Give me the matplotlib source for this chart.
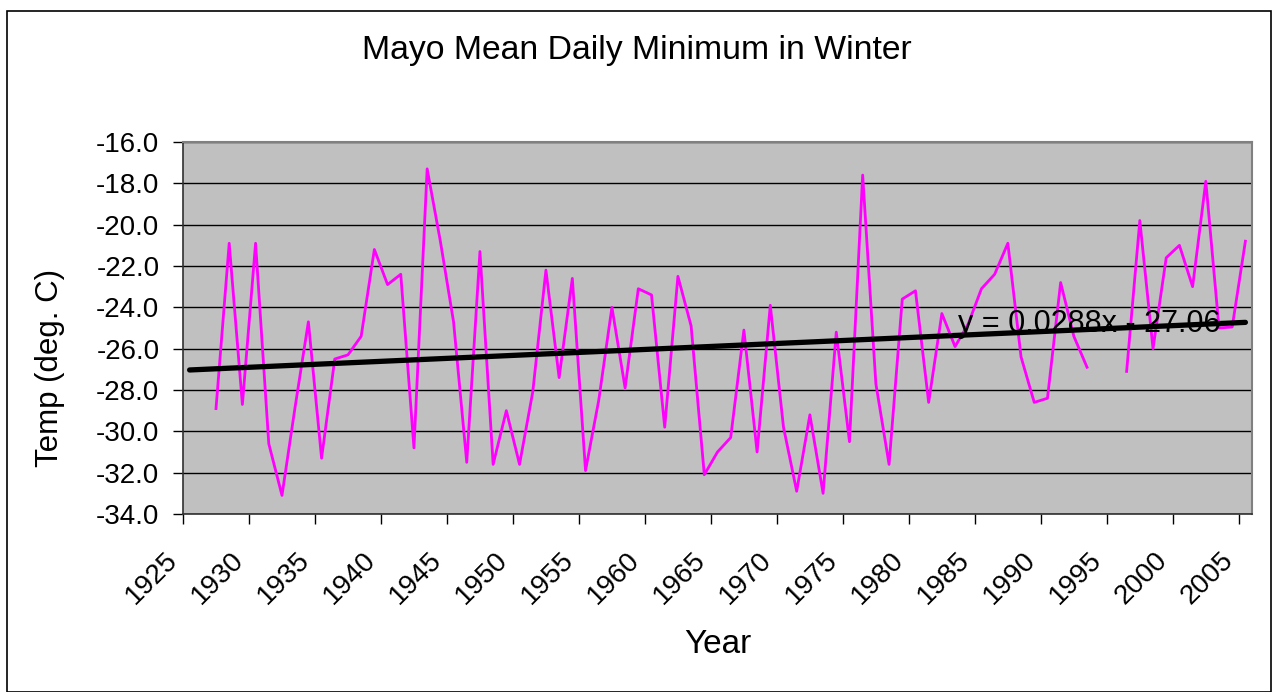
import numpy as np
import matplotlib.pyplot as plt
from matplotlib.patches import Rectangle

plt.rcParams['font.family'] = ['Liberation Sans', 'DejaVu Sans']

# winter mean daily minimum, Mayo (deg C); 1994-1995 missing
years = np.arange(1927, 2006)
temps = [-28.9, -20.9, -28.7, -20.9, -30.6, -33.1, -28.8, -24.7, -31.3, -26.5,
         -26.3, -25.4, -21.2, -22.9, -22.4, -30.8, -17.3, -20.8, -24.7, -31.5,
         -21.3, -31.6, -29.0, -31.6, -28.1, -22.2, -27.4, -22.6, -31.9, -28.5,
         -24.0, -27.9, -23.1, -23.4, -29.8, -22.5, -24.9, -32.1, -31.0, -30.3,
         -25.1, -31.0, -23.9, -29.8, -32.9, -29.2, -33.0, -25.2, -30.5, -17.6,
         -27.7, -31.6, -23.6, -23.2, -28.6, -24.3, -25.9, -24.8, -23.1, -22.4,
         -20.9, -26.4, -28.6, -28.4, -22.8, -25.4, -26.9, np.nan, np.nan, -27.1,
         -19.8, -26.0, -21.6, -21.0, -23.0, -17.9, -25.0, -24.95, -20.8]

# Excel linear trendline (x = category index, 1925 -> 1)
slope = 0.0288
intercept = -27.06
trend_years = np.arange(1925, 2006)

fig = plt.figure(figsize=(12.74, 6.92), dpi=100)
ax = fig.add_axes([183/1274, 1 - 514/692, (1252-183)/1274, (514-142)/692])
ax.set_facecolor('#C0C0C0')

# categories sit between tick marks
ax.plot(years + 0.5, temps, color='#FF00FF', lw=2, zorder=3)
ax.plot(trend_years + 0.5, slope * (trend_years - 1924) + intercept,
        color='black', lw=3.8, solid_capstyle='round', zorder=4)

ax.set_xlim(1925, 2006)
ax.set_ylim(-34, -16)
ax.set_xticks(np.arange(1925, 2006, 5))
ax.set_yticks(np.arange(-34, -15, 2))
ax.set_yticklabels(['%.1f' % v for v in np.arange(-34, -15, 2)])
ax.grid(axis='y', color='black', lw=1)
ax.set_axisbelow(True)

ax.tick_params(axis='y', direction='out', length=7, width=1, pad=10, labelsize=20)
ax.tick_params(axis='x', direction='out', length=7, width=1, pad=17, labelsize=20)
for lab in ax.get_xticklabels():
    lab.set_rotation(45)
    lab.set_ha('right')

for s in ['top', 'right']:
    ax.spines[s].set_color('#808080')
    ax.spines[s].set_linewidth(1.5)
for s in ['left', 'bottom']:
    ax.spines[s].set_color('#303030')
    ax.spines[s].set_linewidth(1.2)

ax.set_xlabel('Year', fontsize=24)
ax.set_ylabel('Temp (deg. C)', fontsize=22.5)
ax.xaxis.set_label_coords(0.5, -0.31)
ax.yaxis.set_label_coords(-0.110, 0.392)

fig.text(0.5, 1 - 50/692, 'Mayo Mean Daily Minimum in Winter', fontsize=24.3,
         ha='center', va='center')
fig.text(958/1274, 1 - 332/692, 'y = 0.0288x - 27.06', fontsize=22,
         ha='left', va='baseline', zorder=5)

# chart border
fig.patches.append(Rectangle((7/1274, 0.5/692), 1264/1274, 681/692,
                             transform=fig.transFigure, fill=False,
                             edgecolor='black', lw=1.2))

fig.savefig('out.png', dpi=100)
